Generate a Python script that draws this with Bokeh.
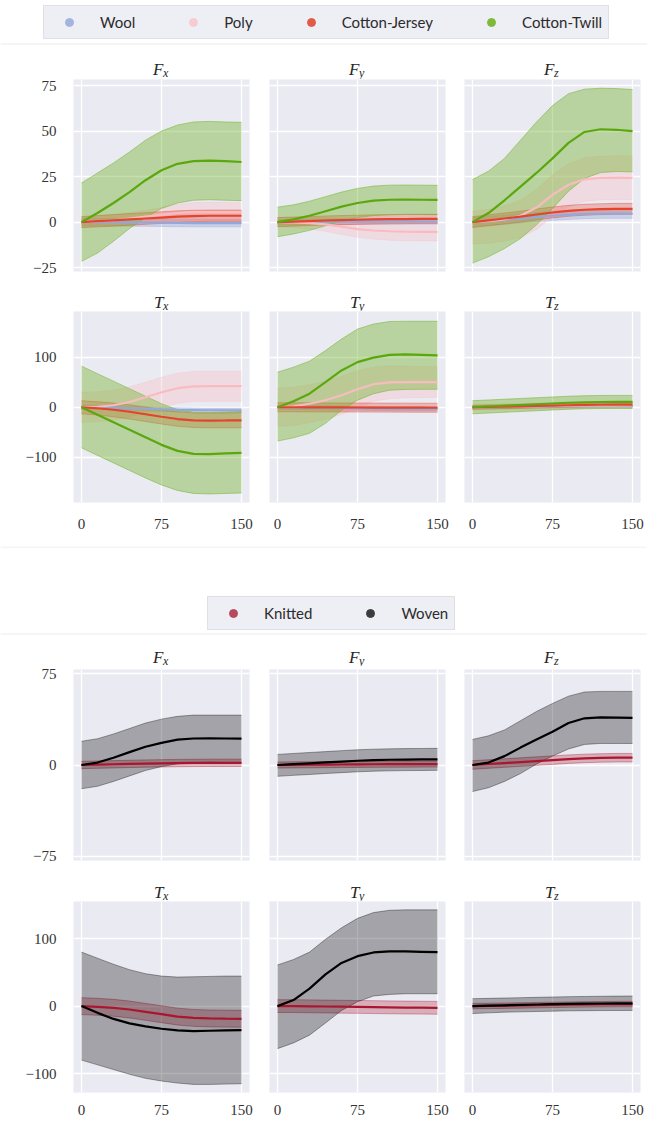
from bokeh.plotting import figure
from bokeh.layouts import column, row
from bokeh.models import Range1d, FixedTicker, Legend, LegendItem, Span
from bokeh.core.properties import value
from bokeh.embed import file_html
from bokeh.resources import INLINE

# ---------------- data ----------------
X = [0, 15, 30, 45, 60, 75, 90, 105, 120, 135, 150]
X_TICKS = [0, 75, 150]

TOP_NAMES = ["Wool", "Poly", "Cotton-Jersey", "Cotton-Twill"]
BOT_NAMES = ["Knitted", "Woven"]
F_TITLES = [("F", "x"), ("F", "y"), ("F", "z")]
T_TITLES = [("T", "x"), ("T", "y"), ("T", "z")]

TOP_F_TICKS = [-25, 0, 25, 50, 75]
TOP_T_TICKS = [-100, 0, 100]
BOT_F_TICKS = [-75, 0, 75]
BOT_T_TICKS = [-100, 0, 100]

# --- top chart, F_x
FX1_WOOL = [0, 0, 0, -0.1, -0.2, -0.3, -0.4, -0.5, -0.5, -0.5, -0.5]
FX1_WOOL_LO = [-2, -2, -2.1, -2.2, -2.3, -2.4, -2.5, -2.6, -2.6, -2.6, -2.6]
FX1_WOOL_HI = [2, 2, 2, 1.9, 1.8, 1.7, 1.6, 1.5, 1.5, 1.5, 1.5]
FX1_POLY = [0, 0.5, 1, 2, 3, 4, 5, 5.5, 5.5, 5.5, 5.5]
FX1_POLY_LO = [-3, -2.5, -2, -1.2, -0.5, 0, 0.2, 0.3, 0.3, 0.3, 0.3]
FX1_POLY_HI = [3, 3.5, 4, 5.2, 6.5, 8, 9.8, 10.7, 10.9, 10.8, 10.7]
FX1_CJ = [0, 0.5, 1, 1.5, 2, 2.5, 3, 3.3, 3.5, 3.5, 3.5]
FX1_CJ_LO = [-3, -2.6, -2.2, -1.7, -1.2, -0.7, -0.2, 0.2, 0.4, 0.4, 0.4]
FX1_CJ_HI = [3, 3.6, 4.2, 4.7, 5.2, 5.7, 6.2, 6.5, 6.6, 6.6, 6.6]
FX1_CT = [0, 5, 10.5, 16.5, 23, 28.5, 32, 33.5, 33.8, 33.5, 33]
FX1_CT_LO = [-21.5, -17, -10.5, -3.5, 2.5, 7.5, 10.5, 12, 12.3, 12, 11.8]
FX1_CT_HI = [21.5, 27, 32.5, 38.5, 45, 50, 53.3, 55, 55.3, 55, 54.8]
# --- top chart, F_y
FY1_WOOL = [0, 0, 0.1, 0.1, 0.2, 0.2, 0.2, 0.3, 0.3, 0.3, 0.3]
FY1_WOOL_LO = [-1.5, -1.5, -1.4, -1.4, -1.3, -1.3, -1.3, -1.2, -1.2, -1.2, -1.2]
FY1_WOOL_HI = [1.5, 1.5, 1.6, 1.6, 1.7, 1.7, 1.7, 1.8, 1.8, 1.8, 1.8]
FY1_POLY = [0, -0.2, -0.5, -1.2, -2.5, -3.8, -4.6, -5, -5.2, -5.3, -5.3]
FY1_POLY_LO = [-2.5, -3, -3.8, -5, -6.8, -8.3, -9.3, -9.9, -10.2, -10.3, -10.3]
FY1_POLY_HI = [2.5, 2.6, 2.8, 2.6, 1.8, 0.7, 0.1, -0.1, -0.2, -0.3, -0.3]
FY1_CJ = [0, 0.3, 0.6, 0.9, 1.1, 1.3, 1.5, 1.6, 1.7, 1.8, 1.8]
FY1_CJ_LO = [-2.5, -2.2, -1.9, -1.6, -1.4, -1.2, -1, -0.9, -0.8, -0.7, -0.7]
FY1_CJ_HI = [2.5, 2.8, 3.1, 3.4, 3.6, 3.8, 4, 4.1, 4.2, 4.3, 4.3]
FY1_CT = [0, 1.5, 3.5, 6, 8.5, 10.5, 11.8, 12.3, 12.4, 12.3, 12.2]
FY1_CT_LO = [-8, -6.5, -4.5, -2, 0.5, 2.5, 3.6, 4.1, 4.3, 4.2, 4.1]
FY1_CT_HI = [8.2, 9.5, 11.5, 14, 16.5, 18.5, 19.8, 20.3, 20.4, 20.3, 20.2]
# --- top chart, F_z
FZ1_WOOL = [0, 0.6, 1.2, 2, 2.8, 3.5, 4, 4.4, 4.6, 4.6, 4.6]
FZ1_WOOL_LO = [-2.5, -1.9, -1.3, -0.5, 0.3, 1.0, 1.5, 1.9, 2.1, 2.1, 2.1]
FZ1_WOOL_HI = [2.5, 3.1, 3.7, 4.5, 5.3, 6.0, 6.5, 6.9, 7.1, 7.1, 7.1]
FZ1_POLY = [0, 0.5, 1.5, 3.5, 8, 15, 20.5, 23.5, 24.3, 24.4, 24.3]
FZ1_POLY_LO = [-12, -11.5, -10.5, -8.5, -4, 3, 8.5, 11.5, 12.3, 12.4, 12.3]
FZ1_POLY_HI = [6, 7, 9, 12, 18, 26, 32, 35.3, 36.2, 36.4, 36.3]
FZ1_CJ = [0, 1, 2, 3, 4.2, 5.3, 6.2, 6.8, 7.1, 7.3, 7.3]
FZ1_CJ_LO = [-3, -2, -1, 0, 1.2, 2.3, 3.2, 3.8, 4.1, 4.3, 4.3]
FZ1_CJ_HI = [3, 4, 5, 6, 7.2, 8.3, 9.2, 9.8, 10.1, 10.3, 10.3]
FZ1_CT = [0, 5, 12, 19.5, 27, 35, 43.5, 49.5, 51, 50.7, 50]
FZ1_CT_LO = [-22.5, -19, -14.5, -9, -1.5, 7.5, 17, 24, 27.2, 27.8, 27.6]
FZ1_CT_HI = [23.4, 28, 35, 45, 55, 64, 70.5, 73, 73.5, 73.3, 72.8]
# --- top chart, T_x
TX1_WOOL = [0, -0.5, -1, -2, -3, -4, -5, -5.5, -6, -6, -6]
TX1_WOOL_LO = [-4, -4.5, -5, -6, -7, -8, -9, -9.5, -10, -10, -10]
TX1_WOOL_HI = [4, 3.5, 3, 2, 1, 0, -1, -1.5, -2, -2, -2]
TX1_POLY = [0, 1, 4, 10.5, 20, 30, 38, 41.5, 42, 42, 42]
TX1_POLY_LO = [-30, -29, -26, -19.5, -10, 0, 8, 11.5, 12, 12, 12]
TX1_POLY_HI = [30, 31, 34, 40.5, 50, 60, 68, 71.5, 72, 72, 72]
TX1_CJ = [0, -2, -5, -9, -14, -19, -23.5, -26, -26.5, -26.3, -26]
TX1_CJ_LO = [-13, -15.5, -19, -23.5, -28.5, -33.5, -38, -40.5, -41, -41, -41]
TX1_CJ_HI = [13, 11, 8.5, 5, 0.5, -4.5, -9, -11.5, -12, -11.5, -11]
TX1_CT = [0, -15, -30, -45, -60, -75, -87, -93, -93.5, -92, -91]
TX1_CT_LO = [-81, -96, -111, -126, -141, -155, -166, -172, -173, -172, -171]
TX1_CT_HI = [82, 67, 52, 37, 22, 7, -5, -10, -10.5, -9.5, -8.5]
# --- top chart, T_y
TY1_WOOL = [0, -0.3, -0.6, -1, -1.5, -2, -2.5, -2.8, -3, -3, -3]
TY1_WOOL_LO = [-4, -4.3, -4.6, -5, -5.5, -6, -6.5, -6.8, -7, -7, -7]
TY1_WOOL_HI = [4, 3.7, 3.4, 3, 2.5, 2, 1.5, 1.2, 1, 1, 1]
TY1_POLY = [0, 2, 7, 14, 24, 36, 46, 49.7, 50.3, 50.3, 50.3]
TY1_POLY_LO = [-38, -36, -31, -24, -14, -1, 12, 17, 19, 19.5, 20]
TY1_POLY_HI = [38, 40, 45, 52, 62, 73, 80, 82.5, 82, 81.5, 81]
TY1_CJ = [0, 0, -0.2, -0.3, -0.4, -0.5, -0.6, -0.7, -0.8, -0.9, -1]
TY1_CJ_LO = [-9, -9, -9.2, -9.3, -9.4, -9.5, -9.6, -9.7, -9.8, -9.9, -10]
TY1_CJ_HI = [9, 9, 8.8, 8.7, 8.6, 8.5, 8.4, 8.3, 8.2, 8.1, 8]
TY1_CT = [0, 12, 27, 50, 73.5, 90, 99, 104.6, 105.3, 104.6, 103.3]
TY1_CT_LO = [-67.5, -61, -52, -32, -6, 14, 27, 34, 35.5, 35.8, 35.8]
TY1_CT_HI = [70, 80, 92, 113, 136, 156, 166, 171, 171.5, 171.5, 171.5]
# --- top chart, T_z
TZ1_WOOL = [0, 0.3, 0.6, 1, 1.4, 1.8, 2.2, 2.5, 2.7, 2.8, 2.8]
TZ1_WOOL_LO = [-3, -2.7, -2.4, -2, -1.6, -1.2, -0.8, -0.5, -0.3, -0.2, -0.2]
TZ1_WOOL_HI = [3, 3.3, 3.6, 4, 4.4, 4.8, 5.2, 5.5, 5.7, 5.8, 5.8]
TZ1_POLY = [0, 0.5, 1, 1.6, 2.2, 2.8, 3.3, 3.6, 3.8, 3.9, 4]
TZ1_POLY_LO = [-6, -5.5, -5, -4.4, -3.8, -3.2, -2.7, -2.4, -2.2, -2.1, -2]
TZ1_POLY_HI = [6, 6.5, 7, 7.6, 8.2, 8.8, 9.3, 9.6, 9.8, 9.9, 10]
TZ1_CJ = [0, 0.6, 1.2, 1.9, 2.6, 3.3, 4, 4.6, 5, 5.2, 5.3]
TZ1_CJ_LO = [-4, -3.4, -2.8, -2.1, -1.4, -0.7, 0, 0.6, 1, 1.2, 1.3]
TZ1_CJ_HI = [4, 4.6, 5.2, 5.9, 6.6, 7.3, 8, 8.6, 9, 9.2, 9.3]
TZ1_CT = [0, 1.5, 3, 4.5, 6, 7.5, 9, 10, 10.5, 10.6, 10.6]
TZ1_CT_LO = [-13, -11.5, -10, -8.5, -7, -5.5, -4, -3, -2.5, -2.4, -2.4]
TZ1_CT_HI = [13, 14.5, 16, 17.5, 19, 20.5, 22, 23, 23.5, 23.6, 23.6]

# --- bottom chart, F_x
FX2_KNIT = [0, 0.3, 0.6, 0.9, 1.2, 1.4, 1.6, 1.7, 1.8, 1.8, 1.8]
FX2_KNIT_LO = [-3, -2.7, -2.4, -2.1, -1.8, -1.6, -1.4, -1.3, -1.2, -1.2, -1.2]
FX2_KNIT_HI = [3, 3.3, 3.6, 3.9, 4.2, 4.4, 4.6, 4.7, 4.8, 4.8, 4.8]
FX2_WOVEN = [0, 2, 6, 10.6, 15, 18.2, 20.8, 21.8, 22, 21.8, 21.6]
FX2_WOVEN_LO = [-19.5, -17.5, -13.5, -9, -4.5, -1.3, 1, 2, 2.3, 2, 2]
FX2_WOVEN_HI = [19.5, 21.6, 25.5, 30, 34.5, 37.7, 40, 41, 41, 41, 41]
# --- bottom chart, F_y
FY2_KNIT = [0, 0.1, 0.2, 0.3, 0.4, 0.5, 0.6, 0.7, 0.75, 0.8, 0.8]
FY2_KNIT_LO = [-2.5, -2.4, -2.3, -2.2, -2.1, -2, -1.9, -1.8, -1.75, -1.7, -1.7]
FY2_KNIT_HI = [2.5, 2.6, 2.7, 2.8, 2.9, 3, 3.1, 3.2, 3.25, 3.3, 3.3]
FY2_WOVEN = [0, 0.7, 1.4, 2.1, 2.8, 3.5, 4, 4.3, 4.5, 4.6, 4.7]
FY2_WOVEN_LO = [-9.3, -8.5, -7.8, -7, -6.3, -5.6, -5.1, -4.8, -4.6, -4.5, -4.4]
FY2_WOVEN_HI = [8.7, 9.5, 10.3, 11, 11.8, 12.5, 13, 13.3, 13.5, 13.6, 13.7]
# --- bottom chart, F_z
FZ2_KNIT = [0, 0.8, 1.6, 2.4, 3.2, 4, 4.8, 5.4, 5.8, 6, 6]
FZ2_KNIT_LO = [-3.5, -2.7, -1.9, -1.1, -0.3, 0.5, 1.3, 1.9, 2.3, 2.5, 2.5]
FZ2_KNIT_HI = [3.5, 4.3, 5.1, 5.9, 6.7, 7.5, 8.3, 8.9, 9.3, 9.5, 9.5]
FZ2_WOVEN = [0, 2, 7.3, 14.3, 21, 27.3, 34.5, 38.4, 39.2, 39, 38.7]
FZ2_WOVEN_LO = [-21.8, -18.7, -13.5, -7, 0.8, 7.3, 13.2, 16.9, 17.7, 17.7, 17.7]
FZ2_WOVEN_HI = [21, 24, 28.8, 36.4, 44, 50.6, 56.6, 60, 60.5, 60.5, 60.5]
# --- bottom chart, T_x
TX2_KNIT = [0, -1, -2.5, -5, -8.5, -12, -15.5, -17.5, -18.3, -18.6, -18.8]
TX2_KNIT_LO = [-12.5, -13.5, -15, -17.5, -21, -24.5, -28, -30, -30.8, -31.1, -31.3]
TX2_KNIT_HI = [12.5, 11.5, 10, 7.5, 4, 0.5, -3, -5, -5.8, -6.1, -6.3]
TX2_WOVEN = [0, -10, -19, -25.5, -30, -33.5, -36, -37, -36.5, -36, -35.5]
TX2_WOVEN_LO = [-80, -87, -94, -101, -107, -111, -114, -116, -116, -115.5, -115]
TX2_WOVEN_HI = [80, 71, 62, 54, 48, 44.5, 43, 43.5, 44, 44.5, 44.5]
# --- bottom chart, T_y
TY2_KNIT = [0, 0, -0.3, -0.6, -0.9, -1.2, -1.5, -1.8, -2.1, -2.3, -2.5]
TY2_KNIT_LO = [-9.5, -9.5, -9.8, -10.1, -10.4, -10.7, -11, -11.3, -11.6, -11.8, -12]
TY2_KNIT_HI = [9.5, 9.5, 9.2, 8.9, 8.6, 8.3, 8, 7.7, 7.4, 7.2, 7]
TY2_WOVEN = [0, 9, 26, 47, 64, 74, 79.5, 81, 81, 80.5, 80]
TY2_WOVEN_LO = [-63, -54.5, -43, -25, -6.4, 6.4, 15, 17.3, 18.3, 18.3, 18.3]
TY2_WOVEN_HI = [61, 69, 80, 99, 116, 130, 138.6, 142, 142.6, 142.6, 142.6]
# --- bottom chart, T_z
TZ2_KNIT = [0, 0.3, 0.6, 1, 1.4, 1.8, 2.2, 2.5, 2.8, 3, 3]
TZ2_KNIT_LO = [-4, -3.7, -3.4, -3, -2.6, -2.2, -1.8, -1.5, -1.2, -1, -1]
TZ2_KNIT_HI = [4, 4.3, 4.6, 5, 5.4, 5.8, 6.2, 6.5, 6.8, 7, 7]
TZ2_WOVEN = [0, 0.6, 1.2, 1.8, 2.4, 3, 3.4, 3.7, 3.9, 4, 4]
TZ2_WOVEN_LO = [-11, -10, -9, -8.5, -8, -7.5, -7, -6.8, -6.6, -6.5, -6.4]
TZ2_WOVEN_HI = [11, 11.5, 12, 12.5, 13, 13.5, 14, 14.3, 14.6, 14.8, 15]

# ---------------- styles ----------------
BG = "#EAEAF2"
TICK_FONT = "Liberation Serif"
TICK_COLOR = "#333333"
TOP_STYLE = [
    dict(line="#93A8D8", fill="#8DA4D6", fa=0.35, ea=0.35, dot="#A3B5DE"),
    dict(line="#F8BCC0", fill="#F6BFC4", fa=0.38, ea=0.35, dot="#F5CDD0"),
    dict(line="#E4432C", fill="#E4432C", fa=0.30, ea=0.40, dot="#E25A48"),
    dict(line="#5AA80E", fill="#6DB224", fa=0.40, ea=0.50, dot="#7DBA3A"),
]
BOT_STYLE = [
    dict(line="#A8172F", fill="#B0243A", fa=0.30, ea=0.40, dot="#B54A5C"),
    dict(line="#000000", fill="#000000", fa=0.30, ea=0.35, dot="#3C3C3C"),
]

FRAME_W = [176, 176, 176]
LEFT = [73, 10, 9]
RIGHT = [10, 10, 7]
TOTAL_W = 647


def minus(t):
    return str(t).replace("-", "\u2212")


def blank(w, h):
    p = figure(frame_width=w, frame_height=h, x_range=Range1d(0, w), y_range=Range1d(h, 0),
               min_border=0, output_backend="svg", toolbar_location=None,
               outline_line_color=None, background_fill_color="white", border_fill_color="white")
    p.axis.visible = False
    p.grid.visible = False
    return p


def title_strip(col, h, baseline, title):
    w = LEFT[col] + FRAME_W[col] + RIGHT[col]
    p = blank(w, h)
    cx = LEFT[col] + FRAME_W[col] / 2
    main, sub = title
    p.text(x=[cx + 2], y=[baseline], text=[main], text_align="right", text_baseline="alphabetic",
           text_font=value(TICK_FONT), text_font_style="italic", text_font_size="17px", text_color="#262626")
    p.text(x=[cx + 1.5], y=[baseline + 3], text=[sub], text_align="left", text_baseline="alphabetic",
           text_font=value(TICK_FONT), text_font_style="italic", text_font_size="12px", text_color="#262626")
    return p


def panel(col, frame_h, top, bottom, yr, yticks, x_standoff, series, styles):
    fw = FRAME_W[col]
    p = figure(frame_width=fw, frame_height=frame_h, x_range=Range1d(-7.5, 157.5), y_range=yr,
               min_border_left=LEFT[col], min_border_right=RIGHT[col],
               min_border_top=top, min_border_bottom=bottom,
               output_backend="svg", toolbar_location=None,
               background_fill_color=BG, border_fill_color="white", outline_line_color=None)
    for ax in (p.xaxis[0], p.yaxis[0]):
        ax.axis_line_color = None
        ax.major_tick_line_color = None
        ax.minor_tick_line_color = None
        ax.major_tick_in = 0
        ax.major_tick_out = 0
        ax.minor_tick_in = 0
        ax.minor_tick_out = 0
        ax.major_label_text_font = TICK_FONT
        ax.major_label_text_font_size = "15px"
        ax.major_label_text_color = TICK_COLOR
    p.xaxis.ticker = FixedTicker(ticks=X_TICKS)
    p.yaxis.ticker = FixedTicker(ticks=yticks)
    p.yaxis.major_label_overrides = {t: minus(t) for t in yticks if t < 0}
    p.yaxis.major_label_standoff = 17
    p.xgrid.ticker = FixedTicker(ticks=X_TICKS)
    p.ygrid.ticker = FixedTicker(ticks=yticks)
    p.grid.grid_line_color = "white"
    p.grid.grid_line_width = 1.3
    if col != 0:
        p.yaxis.visible = False
    if x_standoff is None:
        p.xaxis.visible = False
    else:
        p.xaxis.major_label_standoff = x_standoff

    for (m, lo, hi), st in zip(series, styles):
        p.varea(x=X, y1=lo, y2=hi, fill_color=st["fill"], fill_alpha=st["fa"])
        p.line(X, lo, line_color=st["fill"], line_alpha=st["ea"], line_width=1)
        p.line(X, hi, line_color=st["fill"], line_alpha=st["ea"], line_width=1)
    for (m, lo, hi), st in zip(series, styles):
        p.line(X, m, line_color=st["line"], line_width=2.2)
    return p


def header(h, names, styles, loc, span_ys):
    p = blank(TOTAL_W, h)
    items = []
    for name, st in zip(names, styles):
        r = p.scatter(x=[-100], y=[-100], size=8, fill_color=st["dot"], line_color=st["dot"])
        items.append(LegendItem(label=name, renderers=[r]))
    lg = Legend(items=items, location=loc, orientation="horizontal", glyph_width=38, glyph_height=20,
                label_height=20, label_standoff=12, spacing=39, padding=6, margin=0,
                label_text_font="Lato", label_text_font_size="15px", label_text_color="#2b2b2b",
                border_line_color="#cfcfd4", border_line_width=1.2,
                background_fill_color=BG, background_fill_alpha=0.8)
    p.add_layout(lg)
    for y in span_ys:
        p.add_layout(Span(location=y, dimension="width", line_color="#ebebeb", line_width=1))
    return p


TOP_F = [[(FX1_WOOL, FX1_WOOL_LO, FX1_WOOL_HI), (FX1_POLY, FX1_POLY_LO, FX1_POLY_HI),
          (FX1_CJ, FX1_CJ_LO, FX1_CJ_HI), (FX1_CT, FX1_CT_LO, FX1_CT_HI)],
         [(FY1_WOOL, FY1_WOOL_LO, FY1_WOOL_HI), (FY1_POLY, FY1_POLY_LO, FY1_POLY_HI),
          (FY1_CJ, FY1_CJ_LO, FY1_CJ_HI), (FY1_CT, FY1_CT_LO, FY1_CT_HI)],
         [(FZ1_WOOL, FZ1_WOOL_LO, FZ1_WOOL_HI), (FZ1_POLY, FZ1_POLY_LO, FZ1_POLY_HI),
          (FZ1_CJ, FZ1_CJ_LO, FZ1_CJ_HI), (FZ1_CT, FZ1_CT_LO, FZ1_CT_HI)]]
TOP_T = [[(TX1_WOOL, TX1_WOOL_LO, TX1_WOOL_HI), (TX1_POLY, TX1_POLY_LO, TX1_POLY_HI),
          (TX1_CJ, TX1_CJ_LO, TX1_CJ_HI), (TX1_CT, TX1_CT_LO, TX1_CT_HI)],
         [(TY1_WOOL, TY1_WOOL_LO, TY1_WOOL_HI), (TY1_POLY, TY1_POLY_LO, TY1_POLY_HI),
          (TY1_CJ, TY1_CJ_LO, TY1_CJ_HI), (TY1_CT, TY1_CT_LO, TY1_CT_HI)],
         [(TZ1_WOOL, TZ1_WOOL_LO, TZ1_WOOL_HI), (TZ1_POLY, TZ1_POLY_LO, TZ1_POLY_HI),
          (TZ1_CJ, TZ1_CJ_LO, TZ1_CJ_HI), (TZ1_CT, TZ1_CT_LO, TZ1_CT_HI)]]
BOT_F = [[(FX2_KNIT, FX2_KNIT_LO, FX2_KNIT_HI), (FX2_WOVEN, FX2_WOVEN_LO, FX2_WOVEN_HI)],
         [(FY2_KNIT, FY2_KNIT_LO, FY2_KNIT_HI), (FY2_WOVEN, FY2_WOVEN_LO, FY2_WOVEN_HI)],
         [(FZ2_KNIT, FZ2_KNIT_LO, FZ2_KNIT_HI), (FZ2_WOVEN, FZ2_WOVEN_LO, FZ2_WOVEN_HI)]]
BOT_T = [[(TX2_KNIT, TX2_KNIT_LO, TX2_KNIT_HI), (TX2_WOVEN, TX2_WOVEN_LO, TX2_WOVEN_HI)],
         [(TY2_KNIT, TY2_KNIT_LO, TY2_KNIT_HI), (TY2_WOVEN, TY2_WOVEN_LO, TY2_WOVEN_HI)],
         [(TZ2_KNIT, TZ2_KNIT_LO, TZ2_KNIT_HI), (TZ2_WOVEN, TZ2_WOVEN_LO, TZ2_WOVEN_HI)]]

yr_top_f = Range1d(-27.1, 78.3)
yr_top_t = Range1d(-190, 191)
yr_bot_f = Range1d(-78.5, 78.5)
yr_bot_t = Range1d(-128, 155)


def strip_row(h, baseline, titles):
    return row([title_strip(i, h, baseline, t) for i, t in enumerate(titles)])


def panel_row(frame_h, top, bottom, yr, yticks, x_standoff, panels, styles):
    return row([panel(i, frame_h, top, bottom, yr, yticks, x_standoff, ser, styles)
                for i, ser in enumerate(panels)])


layout = column(
    header(45, TOP_NAMES, TOP_STYLE, (43, 6), [43.5]),
    strip_row(34, 24, F_TITLES),
    panel_row(192, 0, 15, yr_top_f, TOP_F_TICKS, None, TOP_F, TOP_STYLE),
    strip_row(25, 16, T_TITLES),
    panel_row(191, 0, 44, yr_top_t, TOP_T_TICKS, 16, TOP_T, TOP_STYLE),
    header(94, BOT_NAMES, BOT_STYLE, (207, 10), [0.5, 87.5]),
    strip_row(26, 17, F_TITLES),
    panel_row(191, 3, 15, yr_bot_f, BOT_F_TICKS, None, BOT_F, BOT_STYLE),
    strip_row(26, 17, T_TITLES),
    panel_row(191, 0, 31, yr_bot_t, BOT_T_TICKS, 12, BOT_T, BOT_STYLE),
)

with open("out.html", "w") as f:
    f.write(file_html(layout, INLINE))
